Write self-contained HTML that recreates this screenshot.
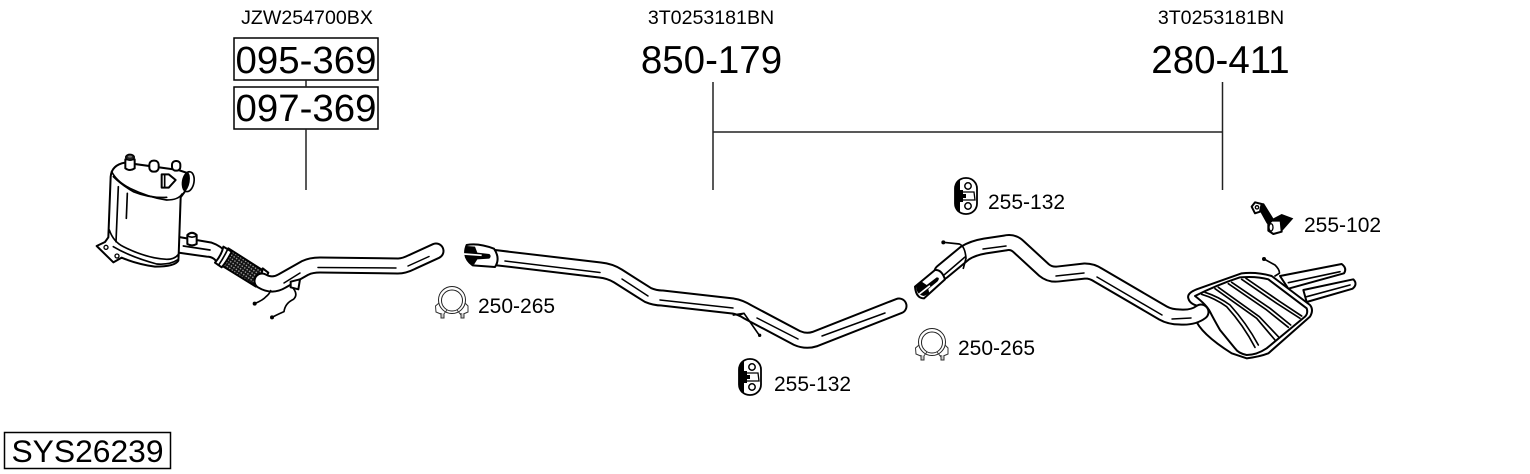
<!DOCTYPE html>
<html><head><meta charset="utf-8"><style>
html,body{margin:0;padding:0;background:#fff}
svg{display:block}
text{font-family:"Liberation Sans",sans-serif;fill:#000}
.o{fill:none;stroke:#000;stroke-width:17;stroke-linejoin:round;stroke-linecap:round}
.w{fill:none;stroke:#fff;stroke-width:13;stroke-linejoin:round;stroke-linecap:round}
.s{fill:#fff;stroke:#000;stroke-width:1.7;stroke-linejoin:round}
.t{fill:none;stroke:#000;stroke-width:1.5;stroke-linecap:round;stroke-linejoin:round}
.z .s{stroke-width:6}
.z .t{stroke-width:5}
</style></head><body>
<svg width="1530" height="474" viewBox="0 0 1530 474" xmlns="http://www.w3.org/2000/svg">
<defs>
<pattern id="mesh" width="9" height="9" patternUnits="userSpaceOnUse" patternTransform="rotate(35)">
<rect width="9" height="9" fill="#111"/><rect x="2" y="2" width="4" height="4" fill="#aaa"/>
</pattern>
<g id="clamp">
<circle cx="0" cy="0" r="13.500" fill="#fff" stroke="#222" stroke-width="1"/>
<circle cx="0" cy="0.500" r="10.500" fill="#fff" stroke="#222" stroke-width="1"/>
<path d="M-13 3 L-16.500 6 L-16 12 L-9 15 L-5 10 M13 3 L16 6 L16 12 L9 15 L5 10" fill="none" stroke="#333" stroke-width="1"/>
<path d="M-11 13 v5 h3 v-4 M9 13 v5 h3 v-4" fill="#ccc" stroke="#333" stroke-width="1"/>
</g>
<g id="hanger">
<rect x="-11" y="-18" width="22" height="36" rx="10.500" fill="#fff" stroke="#000" stroke-width="1.800"/>
<path d="M-11 -10 Q-12 0 -11 10 Q-10 16 -6 17 L-6 -17 Q-10 -16 -11 -10Z" fill="#000"/>
<circle cx="2" cy="-10" r="3.200" fill="#fff" stroke="#000" stroke-width="1.500"/>
<circle cx="2" cy="10" r="3.200" fill="#fff" stroke="#000" stroke-width="1.500"/>
<path d="M-6 -4 L8 -4 L9 4 L-6 4Z" fill="#fff" stroke="#000" stroke-width="1.300"/>
<path d="M-8 -6 h5 v4 h3 v4 h-3 v4 h-5z" fill="#000"/>
</g>
</defs>

<!-- labels -->
<text x="307" y="24" font-size="19.600" text-anchor="middle">JZW254700BX</text>
<text x="711" y="24" font-size="19.600" text-anchor="middle">3T0253181BN</text>
<text x="1221" y="24" font-size="19.600" text-anchor="middle">3T0253181BN</text>

<rect x="234" y="38" width="144" height="42" fill="#fff" stroke="#000" stroke-width="1.500"/>
<rect x="234" y="87" width="144" height="42" fill="#fff" stroke="#000" stroke-width="1.500"/>
<text x="306" y="73" font-size="38.400" text-anchor="middle">095-369</text>
<text x="306" y="121" font-size="38.400" text-anchor="middle">097-369</text>
<text x="711.500" y="73" font-size="38.500" text-anchor="middle">850-179</text>
<text x="1220.500" y="73" font-size="38.500" text-anchor="middle">280-411</text>

<path d="M306 80V87M306 129V190M713 82V190M1222.500 82V190M713 132H1222.500" fill="none" stroke="#222" stroke-width="1.500"/>

<rect x="4.500" y="432.500" width="166" height="36" fill="#fff" stroke="#000" stroke-width="1.500"/>
<text x="87.500" y="462" font-size="31.800" text-anchor="middle">SYS26239</text>

<text x="988" y="209" font-size="21">255-132</text>
<text x="774" y="391" font-size="21">255-132</text>
<text x="478" y="313" font-size="21">250-265</text>
<text x="958" y="355" font-size="21">250-265</text>
<text x="1304" y="232" font-size="21">255-102</text>

<use href="#clamp" x="452" y="300"/>
<use href="#clamp" x="932" y="342"/>
<use href="#hanger" x="750" y="377"/>
<use href="#hanger" x="966" y="196"/>

<!-- converter, in 3x coordinates -->
<g class="z" transform="translate(80 140) scale(.33333)">
<!-- outlet pipe -->
<path class="s" d="M290 290 L395 308 Q425 318 440 340 L415 375 Q405 350 380 350 L295 338Z"/>
<path class="t" d="M310 318 L390 330"/>
<path class="s" d="M322 285 Q336 272 350 285 L350 312 Q336 320 322 312Z"/>
<path class="t" d="M322 287 Q336 296 350 287"/>
<!-- body -->
<path class="s" d="M50 318 L75 306 L85 292 L92 110 Q95 75 135 68 L295 90 L325 100 L318 150 L302 172 L296 345 L295 362 Q285 380 225 380 Q170 372 125 353 L100 367Z"/>
<path class="t" stroke-width="6" d="M95 95 Q110 125 150 145 Q205 172 260 180 Q295 180 306 162"/>
<path class="t" d="M100 110 Q125 135 160 155 Q210 175 260 172"/>
<path class="t" d="M88 270 Q100 305 130 320 Q200 355 260 358 Q285 358 296 342"/>
<path class="t" d="M108 305 L115 140 M142 160 L139 235"/>
<path class="t" d="M100 320 Q150 350 230 372 Q270 375 292 360"/>
<circle cx="78" cy="322" r="6" fill="#fff" stroke="#000" stroke-width="4"/>
<circle cx="111" cy="348" r="6" fill="#fff" stroke="#000" stroke-width="4"/>
<!-- studs -->
<path class="s" d="M136 58 L136 85 Q150 95 164 85 L164 58Z"/>
<ellipse cx="150" cy="52" rx="13" ry="9" fill="#222" stroke="#000" stroke-width="4"/>
<ellipse cx="150" cy="50" rx="6" ry="3" fill="#777"/>
<rect x="208" y="62" width="28" height="33" rx="12" class="s"/>
<rect x="276" y="63" width="25" height="29" rx="11" class="s"/>
<path class="s" d="M245 103 L266 103 L287 120 L266 143 L245 143Z"/>
<path class="t" d="M254 106 L254 140"/>
<ellipse cx="325" cy="125" rx="17" ry="30" fill="#fff" stroke="#000" stroke-width="5" transform="rotate(10 325 125)"/>
<ellipse cx="318" cy="125" rx="11" ry="28" fill="#000" transform="rotate(10 318 125)"/>
<!-- flex -->
<path d="M445 325 L555 395 L528 440 L418 372Z" fill="url(#mesh)" stroke="#000" stroke-width="6" stroke-linejoin="round"/>
<path class="s" d="M430 320 L455 335 Q440 365 425 382 L405 368 Q425 345 430 320Z"/>
<path class="t" d="M442 330 Q430 355 416 375"/>
<path class="s" d="M548 385 L565 398 Q555 425 535 442 L520 432 Q545 415 548 385Z"/>
</g>

<!-- pipe 1 -->
<path class="o" stroke-width="15.500" d="M262 281 Q272 287 282 281 L305 268 Q311 265 320 265 L398 266 Q404 266 412 262 L436 251"/>
<path class="w" stroke-width="11.500" d="M262 281 Q272 287 282 281 L305 268 Q311 265 320 265 L398 266 Q404 266 412 262 L436 251"/>
<path class="t" d="M318 267.500 L396 268 M429 256.500 L408 266 M300 273 L284 283"/>
<!-- sensors pipe 1 -->
<g class="z" transform="translate(80 140) scale(.33333)">
<path class="s" d="M632 425 L660 418 L655 448 L632 442Z"/>
<path class="t" d="M524 491 Q550 480 558 470 Q568 462 572 452"/>
<path class="t" d="M576 532 Q600 520 612 515 Q615 490 640 478 Q655 465 640 445"/>
<circle cx="524" cy="491" r="6"/><circle cx="576" cy="532" r="6"/>
</g>

<!-- pipe 2 -->
<path class="o" d="M490 257 L600 270 Q610 271 618 276 L648 295 Q655 298 662 298 L733 306 Q740 307 748 312 L797 338 Q806 342 815 339 L899 306"/>
<path class="w" d="M490 257 L600 270 Q610 271 618 276 L648 295 Q655 298 662 298 L733 306 Q740 307 748 312 L797 338 Q806 342 815 339 L899 306"/>
<path class="t" d="M505 261 L600 272.500 M622 279 L648 296 M660 300 L733 308 M757 318 L798 339 M822 336 L885 313"/>
<g class="z" transform="translate(290 230) scale(.33333)">
<path class="s" d="M530 45 Q565 38 612 56 Q632 85 615 111 L548 106 Q515 82 530 45Z"/>
<path d="M530 48 L555 50 L562 68 L598 72 Q606 78 598 86 L562 88 L552 104 L535 98 Q520 80 530 48Z" fill="#000"/>
<path d="M522 72 L575 76" stroke="#fff" stroke-width="5"/>
</g>
<g class="z" transform="translate(600 250) scale(.33333)">
<path class="t" stroke-width="7" d="M400 195 L432 190 L478 256 M432 190 L418 195"/>
<circle cx="479" cy="256" r="5"/>
</g>

<!-- muffler, in 3x coordinates -->
<g class="z" transform="translate(1160 190) scale(.33333)">
<path class="s" d="M360 258 L545 222 Q562 235 552 250 L385 296Z"/>
<path class="t" d="M385 278 L540 245"/>
<path class="s" d="M430 300 L580 268 Q594 282 578 296 L440 336Z"/>
<path class="t" d="M440 320 L570 285"/>
<path class="s" d="M105 385 Q120 430 215 490 L260 505 Q300 500 325 490 L450 380 Q462 360 450 345 L335 258 Q290 245 245 250 L110 298 Q80 310 85 325 Q90 345 125 350Z"/>
<path class="s" d="M105 318 Q170 285 240 262 Q290 258 325 268 L440 355 Q445 370 435 380 L320 475 Q290 495 260 495 Q235 490 225 475 L180 420 Q160 385 150 365 Q140 345 105 318Z"/>
<path class="t" d="M125 313 Q165 325 200 350 Q250 405 285 472 M135 307 Q175 320 210 345 Q260 400 295 465"/>
<path class="t" d="M165 296 L290 385 L345 450 M175 292 L298 380 L355 440"/>
<path class="t" d="M205 281 L320 360 L385 412 M215 277 L330 355 L392 405"/>
<path class="t" d="M245 268 L350 340 L420 385 M258 265 L360 335 L425 378"/>
<path class="t" stroke-width="6" d="M312 207 L345 225 Q360 240 358 250 L345 258"/>
<circle cx="312" cy="207" r="6"/>
</g>

<!-- pipe 3 -->
<path class="o" d="M942 272 L965 253 Q973 248 985 246 L1005 243 Q1013 241 1019 247 L1044 270 Q1050 275 1058 274 L1085 271 Q1092 271 1098 275 L1163 313 Q1170 317 1180 317 Q1193 318 1201 312"/>
<path class="w" d="M942 272 L965 253 Q973 248 985 246 L1005 243 Q1013 241 1019 247 L1044 270 Q1050 275 1058 274 L1085 271 Q1092 271 1098 275 L1163 313 Q1170 317 1180 317 Q1193 318 1201 312"/>
<path class="t" d="M944 275 L965 257 M983 249 L1006 246 M1056 276 L1084 273 M1097 277 L1162 315 M1172 319 L1191 318"/>
<g class="z" transform="translate(900 170) scale(.33333)">
<path class="s" d="M45 350 L105 300 Q125 298 135 328 L72 385 Q48 385 45 350Z"/>
<path d="M48 350 L65 335 L80 345 L110 322 Q122 322 112 335 L85 357 L88 370 L72 378 Q50 375 48 350Z" fill="#000"/>
<path d="M58 372 L90 347" stroke="#fff" stroke-width="5"/>
<path class="t" stroke-width="6" d="M130 217 L178 222 Q195 228 198 265 L190 295"/>
<circle cx="130" cy="217" r="6"/>
</g>

<!-- bracket 255-102 -->
<g class="z" transform="translate(1160 190) scale(.33333)">
<path d="M285 37 L312 40 L340 85 L365 72 L400 85 L365 125 L340 120 L320 100Z" fill="#000"/>
<path class="s" stroke-width="4" d="M275 50 L285 37 L305 42 L300 65 L285 70Z"/>
<circle cx="291" cy="52" r="5" fill="#fff" stroke="#000" stroke-width="4"/>
<path class="s" stroke-width="4" d="M325 103 L335 92 L362 92 L365 125 L340 132 L325 122Z"/>
<ellipse cx="333" cy="112" rx="6" ry="11" fill="#fff" stroke="#000" stroke-width="4"/>
</g>
</svg>
</body></html>
